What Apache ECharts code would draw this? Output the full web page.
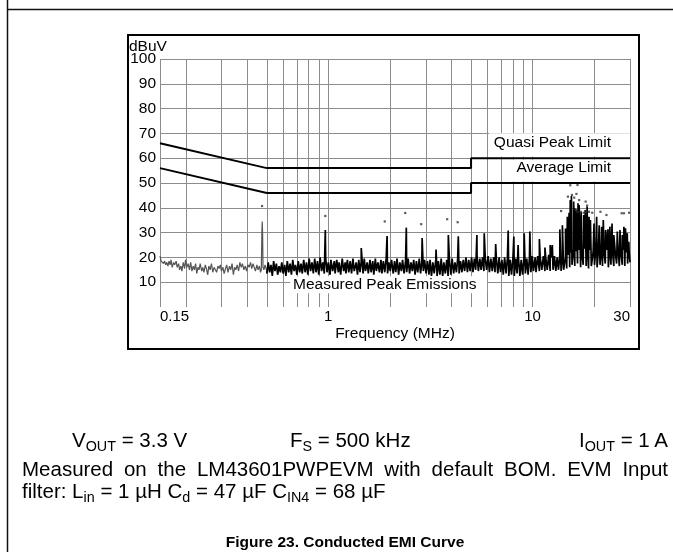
<!DOCTYPE html>
<html><head><meta charset="utf-8">
<script src="https://cdn.jsdelivr.net/npm/echarts@6/dist/echarts.min.js"></script>
<style>
html,body{margin:0;padding:0;background:#fff;}
#wrap{position:relative;width:673px;height:552px;overflow:hidden;background:#fff;}
#chart{position:absolute;left:0;top:0;width:673px;height:552px;}
.cap{position:absolute;font-family:"Liberation Sans",Arial,sans-serif;color:#000;white-space:nowrap;line-height:1;font-size:20.5px;}
.cap sub{font-size:70%;vertical-align:-0.3em;line-height:0;}
#l2{white-space:normal;text-align:justify;text-align-last:justify;width:646px;}
#ttl{font-weight:bold;font-size:15.5px;text-align:center;width:400px;}
</style></head>
<body><div id="wrap"><div id="chart"></div>
<div class="cap" style="left:72px;top:430px;">V<sub>OUT</sub> = 3.3 V</div>
<div class="cap" style="left:290px;top:430px;">F<sub>S</sub> = 500 kHz</div>
<div class="cap" style="right:5px;top:430px;">I<sub>OUT</sub> = 1 A</div>
<div class="cap" id="l2" style="left:22px;top:459px;">Measured on the LM43601PWPEVM with default BOM. EVM Input</div>
<div class="cap" style="left:22px;top:481px;">filter: L<sub>in</sub> = 1 µH C<sub>d</sub> = 47 µF C<sub>IN4</sub> = 68 µF</div>
<div class="cap" id="ttl" style="left:145px;top:534px;">Figure 23. Conducted EMI Curve</div>
</div>
<script>
// ---- tick labels / axis data ----
const xTickVals = [0.15, 1, 10, 30];
const xTickText = ['0.15', '1', '10', '30'];
const minorGridFreqs = [0.2,0.3,0.4,0.5,0.6,0.7,0.8,0.9,2,3,4,5,6,7,8,9,20];

// ---- limit lines (MHz, dBuV) ----
const qpLimit = [[0.15,66],[0.5,56],[5,56],[5,60],[30,60]];
const avgLimit = [[0.15,56],[0.5,46],[5,46],[5,50],[30,50]];

// ---- measured trace, low band (grey) ----
const grayTrace = [[0.150,20.5],[0.152,18.5],[0.154,19],[0.156,17.5],[0.158,18.5],[0.160,17],[0.162,18],[0.164,16.5],[0.166,18.5],[0.168,17],[0.170,19],[0.172,16],[0.175,18],[0.177,17],[0.180,18.5],[0.182,16],[0.185,17.5],[0.187,15],[0.190,16.5],[0.192,14.5],[0.195,18],[0.198,15.5],[0.200,19],[0.203,16],[0.206,17.5],[0.209,15],[0.212,18],[0.215,14.5],[0.218,16.5],[0.221,15],[0.224,17.5],[0.227,13.5],[0.230,16],[0.233,15],[0.236,17.5],[0.240,14.5],[0.243,16],[0.246,14],[0.250,17],[0.253,15.5],[0.257,13],[0.260,16.5],[0.264,15],[0.268,17.5],[0.272,14],[0.276,16],[0.280,15],[0.284,14],[0.288,16.5],[0.292,15.5],[0.296,17],[0.300,14.5],[0.305,16],[0.309,13.5],[0.314,15.5],[0.318,17],[0.323,14],[0.328,16.5],[0.333,15],[0.338,17.5],[0.343,13],[0.348,16],[0.353,15],[0.358,17],[0.364,14.5],[0.369,18],[0.375,16],[0.380,17.5],[0.386,15],[0.392,16.5],[0.398,14.5],[0.404,17],[0.410,16],[0.416,18],[0.422,15.5],[0.428,17.5],[0.434,16],[0.440,14.5],[0.447,17],[0.453,15],[0.460,16.5],[0.466,14],[0.470,15],[0.473,30],[0.475,34.5],[0.477,29],[0.479,16],[0.484,15],[0.490,17],[0.496,15.5],[0.502,14]];

// ---- measured trace, noise floor 0.5-30 MHz (black) ----
const blackFloor = [[0.500,13.5],[0.508,18],[0.516,14],[0.524,17],[0.532,12.5],[0.540,18.5],[0.548,14.5],[0.557,17.5],[0.565,13],[0.574,16.5],[0.583,14],[0.592,18],[0.601,13.5],[0.611,17],[0.620,12.5],[0.630,18.5],[0.640,14],[0.650,17.5],[0.660,13],[0.670,19],[0.680,14.5],[0.691,17],[0.702,13],[0.713,18.5],[0.724,14],[0.735,17.5],[0.746,13.5],[0.758,19],[0.770,14],[0.782,18],[0.794,13],[0.806,19.5],[0.819,14.5],[0.832,18],[0.845,13.5],[0.858,19.5],[0.871,14],[0.885,18.5],[0.898,13],[0.912,20],[0.927,14.5],[0.941,18],[0.956,13.5],[0.971,19.5],[0.986,14],[1.00,18],[1.02,13],[1.03,19],[1.05,14.5],[1.07,18.5],[1.08,13.5],[1.10,19],[1.12,14],[1.13,18],[1.15,13],[1.17,19.5],[1.19,14.5],[1.21,18],[1.22,13.5],[1.24,19],[1.26,14],[1.28,18.5],[1.30,13.5],[1.32,19.5],[1.34,14.5],[1.37,18],[1.39,13],[1.41,19],[1.43,14],[1.45,18.5],[1.48,13.5],[1.50,19.5],[1.52,14.5],[1.55,18],[1.57,13.5],[1.60,19],[1.62,14],[1.65,18.5],[1.67,13],[1.70,19.5],[1.72,14.5],[1.75,18],[1.78,14],[1.81,19],[1.83,13.5],[1.86,18.5],[1.89,14],[1.92,19.5],[1.95,13.5],[1.98,18],[2.01,14.5],[2.04,19],[2.08,13.5],[2.11,18.5],[2.14,14],[2.17,19.5],[2.21,13],[2.24,18],[2.28,14.5],[2.31,19],[2.35,13.5],[2.39,18.5],[2.42,14],[2.46,19.5],[2.50,13.5],[2.54,18],[2.58,14.5],[2.62,19],[2.66,13],[2.70,18.5],[2.74,14],[2.79,19.5],[2.83,13.5],[2.87,18],[2.92,14.5],[2.96,19],[3.01,13.5],[3.06,18.5],[3.11,13],[3.15,19],[3.20,12.5],[3.25,18],[3.30,13.5],[3.36,19],[3.41,12.5],[3.46,18.5],[3.52,13],[3.57,19.5],[3.63,12.5],[3.68,18],[3.74,13.5],[3.80,19],[3.86,12.5],[3.92,18.5],[3.98,13],[4.04,19.5],[4.11,13.5],[4.17,18],[4.24,14],[4.30,19.5],[4.37,13.5],[4.44,18.5],[4.51,14],[4.58,19],[4.65,14.5],[4.72,20],[4.80,14],[4.87,19],[4.95,14.5],[5.03,20],[5.11,14],[5.19,19.5],[5.27,15],[5.35,20.5],[5.43,14.5],[5.52,19.5],[5.60,15],[5.69,20],[5.78,14.5],[5.87,19.5],[5.96,15],[6.06,20.5],[6.15,14],[6.25,19.5],[6.35,14.5],[6.45,20],[6.55,14],[6.65,19.5],[6.76,13.5],[6.86,20],[6.97,14],[7.08,19],[7.19,13],[7.30,20],[7.42,13.5],[7.53,19.5],[7.65,12.5],[7.77,19],[7.89,13],[8.02,20],[8.14,12.5],[8.27,19.5],[8.40,13.5],[8.53,20],[8.67,12.5],[8.80,19],[8.94,13],[9.08,20],[9.22,13.5],[9.37,19.5],[9.51,13],[9.66,20],[9.81,14],[9.97,20.5],[10.1,14.5],[10.3,20],[10.4,14],[10.6,20.5],[10.8,14.5],[10.9,20],[11.1,15],[11.3,20.5],[11.5,14.5],[11.6,20],[11.8,15],[12.0,21],[12.2,14.5],[12.4,20],[12.6,15],[12.8,20.5],[13.0,14.5],[13.2,20],[13.4,15],[13.6,21],[13.8,14.5],[14.0,20.5],[14.2,15],[14.5,20],[14.7,15.5],[14.9,21],[15.2,16],[15.4,22],[15.6,17],[15.9,23],[16.1,16.5],[16.4,22.5],[16.6,17.5],[16.9,23],[17.2,16],[17.4,22],[17.7,17],[18.0,23.5],[18.3,16.5],[18.6,22.5],[18.8,15.5],[19.1,23],[19.4,16.5],[19.8,22],[20.1,17],[20.4,23],[20.7,16],[21.0,22.5],[21.4,17],[21.7,23],[22.0,16.5],[22.4,22],[22.7,17.5],[23.1,23],[23.5,16],[23.8,22.5],[24.2,17],[24.6,23],[25.0,16.5],[25.4,22],[25.8,17.5],[26.2,23.5],[26.6,16.5],[27.0,22.5],[27.5,17],[27.9,23],[28.3,16.5],[28.8,22],[29.2,17.5],[29.7,22.5],[30.0,18]];

// ---- harmonic peaks in the measured trace ----
const peaks = [[0.967,31],[1.45,23.8],[1.94,28.6],[2.41,32],[2.88,27.8],[3.37,23.2],[3.87,29],[4.33,28.5],[5.34,29],[5.8,29.7],[6.6,25.4],[7.6,30.8],[8.1,28.4],[8.5,25],[9.1,29.7],[9.7,30.4],[10.8,27.4],[11.5,24],[12.2,25],[12.5,25],[13.6,31.3],[14.0,33],[14.5,31.7],[14.8,36.4],[15.1,38],[15.3,43.1],[15.5,44.8],[15.9,42.5],[16.1,39.8],[16.4,39.1],[16.7,41.8],[16.9,41.1],[17.3,38.4],[17.8,37.1],[18.1,39.1],[18.5,40.5],[18.9,36.4],[19.2,35.1],[20.0,33.7],[20.6,36.4],[21.2,33],[21.8,32.4],[22.2,35.1],[22.8,31],[23.4,31.3],[23.9,32.4],[24.5,33.7],[25.0,29],[26.0,30.4],[26.8,31],[27.5,29],[28.0,32.4],[28.5,31.7],[29.1,29.7],[29.6,26.3]];

// ---- quasi-peak measurement points ----
const qpPoints = [[0.474,40.7],[0.967,36.7],[1.89,34.5],[2.38,37.9],[2.85,33.4],[3.82,35.4],[4.3,34.2],[13.8,38.7],[14.9,44.5],[15.3,49.1],[15.6,45.2],[16.0,44.1],[16.3,39.1],[16.4,45.6],[16.6,49.2],[16.6,38.4],[16.9,43.1],[17.2,38.4],[17.8,38.0],[18.2,42.5],[18.2,38.4],[18.5,40.9],[18.9,38.4],[19.6,38.0],[21.5,38.4],[23.0,37.1],[27.3,37.8],[28.0,37.8],[29.7,38.0]];

const blackTrace = blackFloor.concat(peaks).sort((a, b) => a[0] - b[0]);

const FONT = '"Liberation Sans", Arial, sans-serif';
const chart = echarts.init(document.getElementById('chart'), null, {renderer: 'canvas'});

chart.setOption({
  animation: false,
  backgroundColor: 'transparent',
  textStyle: {fontFamily: FONT},
  grid: {left: 160, right: 43, top: 59, bottom: 245, containLabel: false},
  xAxis: {
    type: 'log', logBase: 10, min: 0.15, max: 30,
    axisLine: {show: false}, axisTick: {show: false},
    splitLine: {show: true, lineStyle: {color: '#8c8c8c', width: 1}},
    axisLabel: {
      color: '#000', fontSize: 15, fontFamily: FONT, margin: 2,
      showMinLabel: true, showMaxLabel: true,
      alignMinLabel: 'left', alignMaxLabel: 'right',
      formatter: function (v) {
        for (let i = 0; i < xTickVals.length; i++) {
          if (Math.abs(Math.log10(v / xTickVals[i])) < 0.01) return xTickText[i];
        }
        return '';
      }
    },
    name: 'Frequency (MHz)', nameLocation: 'middle', nameGap: 19,
    nameTextStyle: {color: '#000', fontSize: 15.5, fontFamily: FONT}
  },
  yAxis: {
    type: 'value', min: 0, max: 100, interval: 10,
    axisLine: {show: false}, axisTick: {show: false},
    axisLabel: {color: '#000', fontSize: 15.5, fontFamily: FONT, margin: 4, showMinLabel: false},
    splitLine: {show: true, showMinLine: false, lineStyle: {color: '#8c8c8c', width: 1}}
  },
  series: [
    {
      type: 'custom', name: 'minorGrid', z: 1, silent: true,
      data: minorGridFreqs.map(f => [f, 0]),
      renderItem: function (params, api) {
        const f = api.value(0);
        const p0 = api.coord([f, 0]);
        const p1 = api.coord([f, 100]);
        const x = Math.round(p0[0]) + 0.5;
        return {type: 'line', shape: {x1: x, y1: p0[1], x2: x, y2: p1[1]},
          style: {stroke: '#8c8c8c', lineWidth: 1}};
      }
    },
    {type: 'line', name: 'grey', data: grayTrace, symbol: 'none', z: 3, silent: true,
     lineStyle: {color: '#555', width: 1.2}},
    {type: 'line', name: 'Measured Peak Emissions', data: blackTrace, symbol: 'none', z: 4, silent: true,
     sampling: null, lineStyle: {color: '#000', width: 1.7}},
    {type: 'scatter', name: 'QP', data: qpPoints, symbol: 'rect', symbolSize: 2.2, z: 5, silent: true,
     itemStyle: {color: '#333'}},
    {type: 'line', name: 'Quasi Peak Limit', data: qpLimit, symbol: 'none', z: 6, silent: true,
     lineStyle: {color: '#000', width: 2}},
    {type: 'line', name: 'Average Limit', data: avgLimit, symbol: 'none', z: 6, silent: true,
     lineStyle: {color: '#000', width: 2}}
  ]
});

// annotation boxes anchored to data coordinates
const px = (f, v) => chart.convertToPixel({gridIndex: 0}, [f, v]);
const pQP = px(30, 60), pAV = px(30, 50), pAV2 = px(30, 60), pM = px(0.65, 10);
const labelFont = '15.5px ' + FONT;
chart.setOption({
  graphic: [
    {type: 'line', shape: {x1: 7.5, y1: 0, x2: 7.5, y2: 552}, style: {stroke: '#111', lineWidth: 1.5}, z: 100},
    {type: 'line', shape: {x1: 7, y1: 9.5, x2: 673, y2: 9.5}, style: {stroke: '#111', lineWidth: 1.5}, z: 100},
    {type: 'rect', shape: {x: 128, y: 35, width: 511, height: 314}, style: {fill: 'none', stroke: '#000', lineWidth: 2}, z: 100},
    {type: 'text', x: 129, y: 47, style: {text: 'dBuV', font: labelFont, fill: '#000', textVerticalAlign: 'middle', textAlign: 'left'}, z: 100},
    {type: 'rect', shape: {x: pQP[0] - 141, y: pQP[1] - 25, width: 141, height: 23.5}, style: {fill: '#fff'}, z: 50},
    {type: 'text', x: pQP[0] - 19, y: pQP[1] - 15, style: {text: 'Quasi Peak Limit', font: labelFont, fill: '#000', textAlign: 'right', textVerticalAlign: 'middle'}, z: 51},
    {type: 'rect', shape: {x: pAV[0] - 117, y: pAV2[1] + 1.5, width: 117, height: pAV[1] - pAV2[1] - 3}, style: {fill: '#fff'}, z: 50},
    {type: 'text', x: pAV[0] - 19, y: pAV[1] - 15, style: {text: 'Average Limit', font: labelFont, fill: '#000', textAlign: 'right', textVerticalAlign: 'middle'}, z: 51},
    {type: 'rect', shape: {x: pM[0], y: pM[1] - 6, width: 197, height: 17}, style: {fill: '#fff'}, z: 50},
    {type: 'text', x: pM[0] + 3, y: pM[1] + 3, style: {text: 'Measured Peak Emissions', font: labelFont, fill: '#000', textAlign: 'left', textVerticalAlign: 'middle'}, z: 51}
  ]
});
</script>
</body></html>
